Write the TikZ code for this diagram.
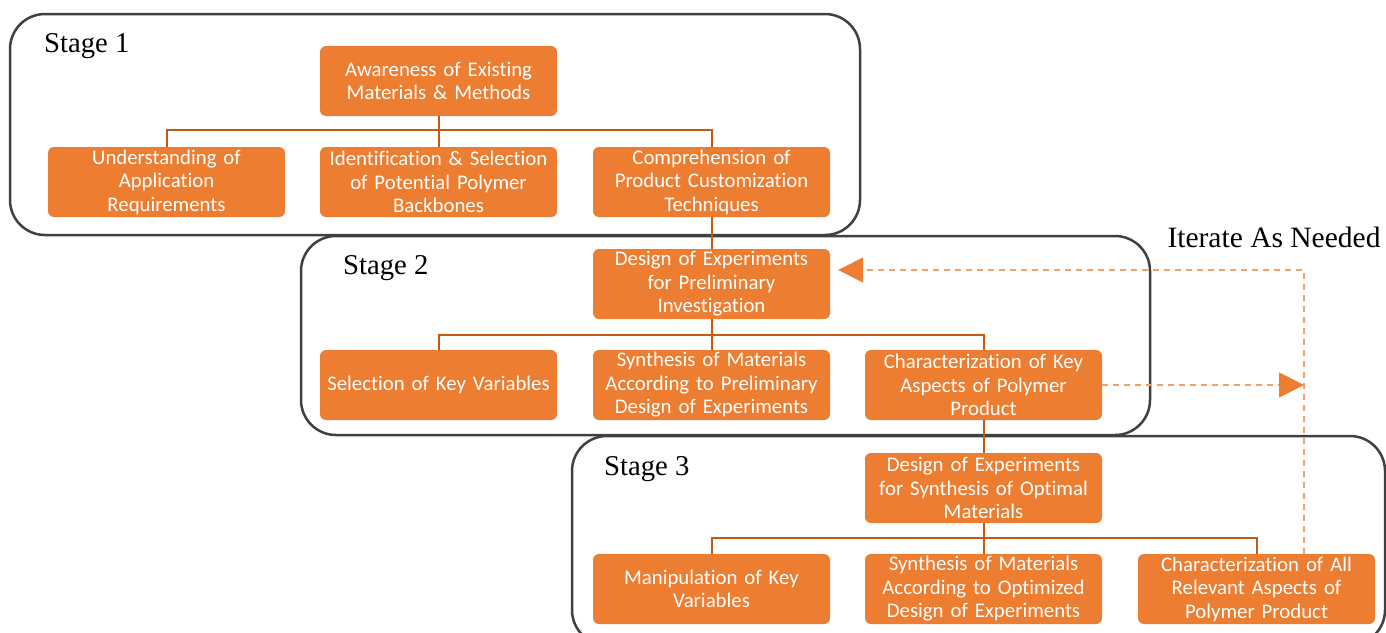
\documentclass[tikz,border=0pt]{standalone}
\usepackage{fontspec}
\setmainfont{Liberation Serif}
\newfontfamily\boxfont[Ligatures=NoCommon]{Carlito}
\usetikzlibrary{arrows.meta,calc}
\definecolor{boxor}{RGB}{237,125,49}
\definecolor{connor}{RGB}{197,90,17}
\definecolor{dashor}{RGB}{244,160,100}
\definecolor{frame}{RGB}{64,64,64}
\tikzset{
  obox/.style={draw=none, fill=boxor, rounded corners=6pt, minimum width=237pt, minimum height=70pt,
    text width=234pt, align=center, inner sep=0pt, text=white, font=\boxfont\fontsize{20.8}{23.5}\selectfont},
  stagebox/.style={draw=frame, line width=2.5pt, fill=white, rounded corners=35pt},
  stagelabel/.style={anchor=base west, inner sep=0pt, font=\fontsize{28.7}{30}\selectfont},
  conn/.style={draw=connor, line width=2pt},
  dsh/.style={draw=dashor, line width=1.5pt, dash pattern=on 6pt off 5pt},
}
\begin{document}
\begin{tikzpicture}[x=1pt,y=-1pt]
\useasboundingbox (0,0) rectangle (1386,632);
\clip (0,0) rectangle (1386,632);
% stage frames
\draw[stagebox] (10,14) rectangle (860,235);
\draw[stagebox] (301,236) rectangle (1150,435);
\draw[stagebox] (572,436) rectangle (1385,645);
\node[stagelabel] (s1) at (44,52) {Stage 1};
\node[stagelabel] (s2) at (343,274) {Stage 2};
\node[stagelabel] (s3) at (604,475) {Stage 3};
\node[anchor=base, inner sep=0pt, font=\fontsize{29.5}{30}\selectfont] (it) at (1274,247) {Iterate As Needed};
% boxes
\node[obox] (A) at (438.5,81) {Awareness of Existing\\Materials \& Methods};
\node[obox] (U) at (166.5,182) {Understanding of\\Application\\Requirements};
\node[obox] (I) at (438.5,182) {Identification \& Selection\\of Potential Polymer\\Backbones};
\node[obox] (C) at (711.5,182) {Comprehension of\\Product Customization\\Techniques};
\node[obox] (D2) at (711.5,284) {Design of Experiments\\for Preliminary\\Investigation};
\node[obox] (S) at (438.5,385) {Selection of Key Variables};
\node[obox] (Sy) at (711.5,385) {Synthesis of Materials\\According to Preliminary\\Design of Experiments};
\node[obox] (Ch) at (983.5,385) {Characterization of Key\\Aspects of Polymer\\Product};
\node[obox] (D3) at (983.5,488) {Design of Experiments\\for Synthesis of Optimal\\Materials};
\node[obox] (M) at (711.5,589) {Manipulation of Key\\Variables};
\node[obox] (Sy3) at (983.5,589) {Synthesis of Materials\\According to Optimized\\Design of Experiments};
\node[obox] (Ch3) at (1256.5,589) {Characterization of All\\Relevant Aspects of\\Polymer Product};
% connectors
\draw[conn] (U.north) -- ++(0,-17) -| (C.north);
\draw[conn] (A.south) -- (I.north);
\draw[conn] (C.south) -- (D2.north);
\draw[conn] (S.north) -- ++(0,-15) -| (Ch.north);
\draw[conn] (D2.south) -- (Sy.north);
\draw[conn] (Ch.south) -- (D3.north);
\draw[conn] (M.north) -- ++(0,-16) -| (Ch3.north);
\draw[conn] (D3.south) -- (Sy3.north);
% iteration
\coordinate (r) at (1304,270);
\draw[dsh, -{Triangle[length=25pt,width=25pt,color=boxor,fill=boxor]}] (Ch3.north -| r) -- (r) -- ($(D2.east |- r)+(8,0)$);
\draw[dsh, -{Triangle[length=25pt,width=25pt,color=boxor,fill=boxor]}] (Ch.east) -- (Ch.east -| r);
\end{tikzpicture}
\end{document}
